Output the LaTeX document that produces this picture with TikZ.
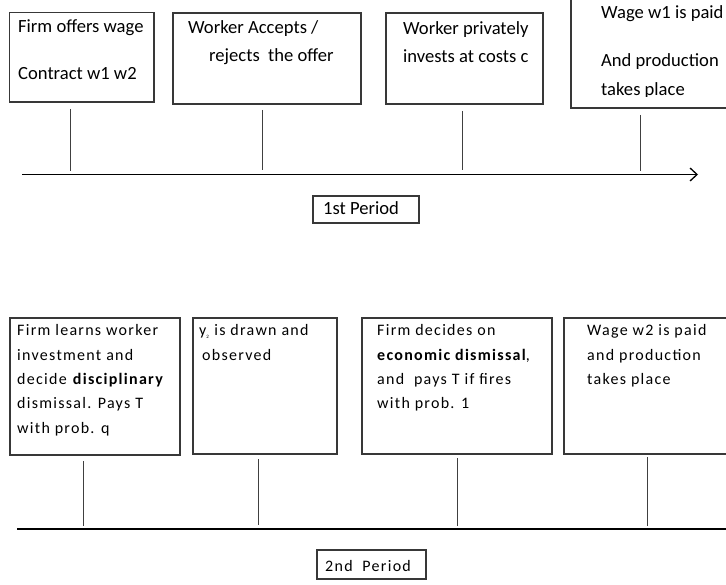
\documentclass[tikz,border=0pt]{standalone}
\usepackage{fontspec}
\setmainfont{Carlito}
\newfontfamily\spacedfont[LetterSpace=8]{Carlito}
\usetikzlibrary{arrows.meta}
\begin{document}
\begin{tikzpicture}[x=1pt,y=-1pt,
  evbox/.style={draw=black!78, line width=1.1pt, inner sep=0pt, outer sep=0pt},
  lowbox/.style={evbox, line width=1.3pt},
  toptext/.style={anchor=base west, inner sep=0pt, font=\fontsize{18.6}{22}\selectfont},
  lowtext/.style={anchor=base west, inner sep=0pt, align=left, font=\spacedfont\fontsize{16}{24.4}\selectfont},
  tickline/.style={draw=black!75, line width=1pt},
  axisone/.style={draw=black, line width=1.5pt, -{Straight Barb[length=7pt,width=13pt,line width=1.3pt]}},
  axistwo/.style={draw=black, line width=2.6pt}
]
\useasboundingbox (0,0) rectangle (726,585);
\clip (0,0) rectangle (726,585);

% ---------- 1st period ----------
\node[evbox, minimum width=144.5pt, minimum height=89.5pt] (b1) at (81.75,57.25) {};
\node[evbox, minimum width=188pt, minimum height=91pt] (b2) at (267,58.5) {};
\node[evbox, minimum width=157pt, minimum height=91pt] (b3) at (464.5,58.5) {};
\node[evbox, minimum width=169pt, minimum height=118pt] (b4) at (655.5,49) {};
\node[evbox, minimum width=106pt, minimum height=27pt] (p1) at (366,209.5) {};

\node[toptext] (t1a) at (18,33) {Firm offers wage};
\node[toptext] (t1b) at (18,80) {Contract w1 w2};
\node[toptext] (t2a) at (188,34) {Worker Accepts /};
\node[toptext] (t2b) at (209,62) {rejects\ \ the offer};
\node[toptext] (t3a) at (403,35) {Worker privately};
\node[toptext] (t3b) at (403,63) {invests at costs c};
\node[toptext] (t4a) at (601,19) {Wage w1 is paid};
\node[toptext] (t4b) at (601,67) {And production};
\begin{scope}
\clip (565,80) rectangle (726,96.3);
\node[toptext] (t4c) at (601,96) {takes place};
\end{scope}
\node[toptext] (p1t) at (323,215) {1st Period};

\coordinate (k1a) at (70.7,109); \coordinate (k1b) at (70.7,171);
\coordinate (k2a) at (262,110);  \coordinate (k2b) at (262,170);
\coordinate (k3a) at (462,111);  \coordinate (k3b) at (462,170);
\coordinate (k4a) at (640,115);  \coordinate (k4b) at (640,171);
\draw[tickline] (k1a) -- (k1b);
\draw[tickline] (k2a) -- (k2b);
\draw[tickline] (k3a) -- (k3b);
\draw[tickline] (k4a) -- (k4b);

\coordinate (ax1s) at (22,174.5); \coordinate (ax1e) at (698,174.5);
\draw[axisone] (ax1s) -- (ax1e);

% ---------- 2nd period ----------
\node[lowbox, minimum width=170pt, minimum height=137pt] (b5) at (95,386.5) {};
\node[lowbox, minimum width=144pt, minimum height=136pt] (b6) at (265,386) {};
\node[lowbox, minimum width=190pt, minimum height=136pt] (b7) at (457,386) {};
\node[lowbox, minimum width=176pt, minimum height=136pt] (b8) at (652,386) {};
\node[lowbox, minimum width=109pt, minimum height=29pt] (p2) at (371.5,564.5) {};

% multi-line nodes: base anchor is the baseline of the last line
\node[lowtext] (m5) at (17,433.3) {Firm learns worker\\investment and\\decide \textbf{disciplinary}\\dismissal. Pays T\\with prob. q};
\node[lowtext] (m6) at (199,360.1) {y\textsubscript{\tiny 2} is drawn and\\\hspace*{3pt}observed};
\node[lowtext] (m7) at (377,408.9) {Firm decides on\\\textbf{economic dismissal},\\and\ \ pays T if fires\\with prob. 1};
\node[lowtext] (m8) at (587,384.5) {Wage w2 is paid\\and production\\takes place};
\node[lowtext] (p2t) at (325,571.5) {2nd\ \ Period};

\coordinate (k5a) at (83,461);  \coordinate (k5b) at (83,526);
\coordinate (k6a) at (258,459); \coordinate (k6b) at (258,525);
\coordinate (k7a) at (457,458); \coordinate (k7b) at (457,526);
\coordinate (k8a) at (647,457); \coordinate (k8b) at (647,526);
\draw[tickline] (k5a) -- (k5b);
\draw[tickline] (k6a) -- (k6b);
\draw[tickline] (k7a) -- (k7b);
\draw[tickline] (k8a) -- (k8b);

\coordinate (ax2s) at (17,529); \coordinate (ax2e) at (726,529);
\draw[axistwo] (ax2s) -- (ax2e);
\end{tikzpicture}
\end{document}
